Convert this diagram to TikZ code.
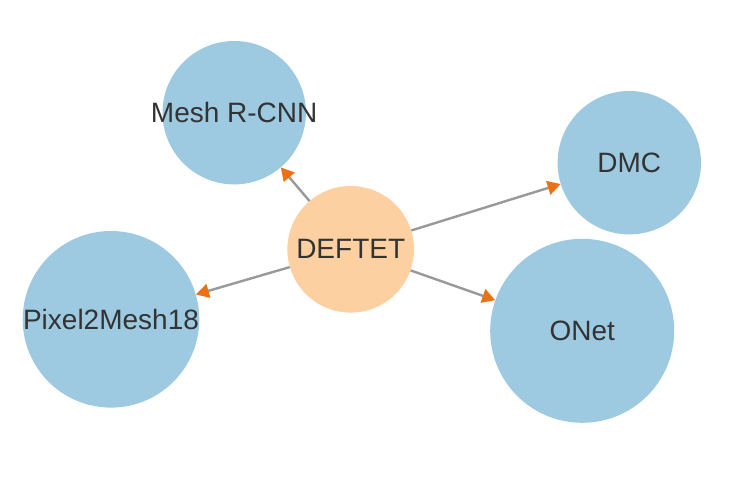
\documentclass[tikz,border=0pt]{standalone}
\usepackage{fontspec}
\setmainfont{Liberation Sans}
\usetikzlibrary{arrows.meta}
\definecolor{nodeblue}{HTML}{9ECAE1}
\definecolor{nodeorange}{HTML}{FDD0A2}
\definecolor{tiporange}{RGB}{236,112,20}
\definecolor{edgegray}{HTML}{999999}
\definecolor{labelgray}{HTML}{333333}
\newcommand{\papername}[1]{\makebox[0pt]{#1}}
\begin{document}
\begin{tikzpicture}[x=1pt,y=-1pt,
    paper/.style={circle,inner sep=0pt,text=labelgray,font=\fontsize{28}{30}\selectfont},
    cited/.style={paper,fill=nodeblue},
    source/.style={paper,fill=nodeorange},
    cites/.style={draw=edgegray,line width=2.4pt,-{Triangle[length=13pt,width=14pt,color=tiporange]}}]
    \useasboundingbox[fill=white] (0,0) rectangle (742,482);
    \node[source,minimum size=126.6pt] (deftet) at (350.7,249.3) {\papername{DEFTET}};
    \node[cited,minimum size=143.4pt] (meshrcnn) at (234.2,112.7) {\papername{Mesh R-CNN}};
    \node[cited,minimum size=143.4pt] (dmc) at (629.3,162.7) {\papername{DMC}};
    \node[cited,minimum size=176.6pt] (pixel2mesh) at (111,319.3) {\papername{Pixel2Mesh18}};
    \node[cited,minimum size=184pt] (onet) at (582.2,330.8) {\papername{ONet}};
    \draw[cites] (deftet)--(meshrcnn);
    \draw[cites] (deftet)--(dmc);
    \draw[cites] (deftet)--(onet);
    \draw[cites] (deftet)--(pixel2mesh);
  \end{tikzpicture}
\end{document}
